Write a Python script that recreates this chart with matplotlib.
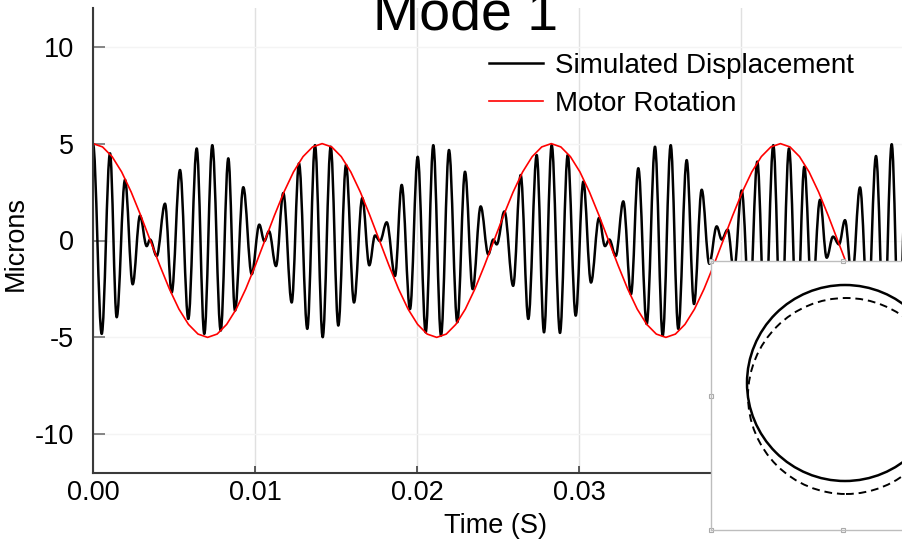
import numpy as np
import matplotlib
matplotlib.use('Agg')
import matplotlib.pyplot as plt
from matplotlib.patches import Circle, PathPatch
from matplotlib.path import Path

# simulated displacement: peaks/troughs (time in ms, microns)
disp_t_ms = [0.000, 0.537, 1.049, 1.462, 1.974, 2.449, 2.899, 3.313, 3.516, 3.930,
             4.442, 4.855, 5.367, 5.879, 6.397, 6.866, 7.360, 7.878, 8.347, 8.760,
             9.272, 9.790, 10.259, 10.568, 10.858, 11.289, 11.740, 12.258, 12.708, 13.220,
             13.695, 14.170, 14.664, 15.133, 15.608, 16.101, 16.613, 17.045, 17.397, 17.705,
             18.119, 18.631, 19.044, 19.556, 20.031, 20.524, 20.993, 21.468, 21.962, 22.474,
             22.949, 23.424, 23.917, 24.386, 24.695, 24.904, 25.382, 25.919, 26.385, 26.854,
             27.372, 27.823, 28.298, 28.809, 29.285, 29.778, 30.247, 30.722, 31.215, 31.585,
             31.851, 32.246, 32.714, 33.190, 33.640, 34.158, 34.670, 35.145, 35.639, 36.107,
             36.625, 37.076, 37.551, 38.020, 38.476, 38.785, 39.155, 39.543, 40.018, 40.500,
             40.981, 41.456, 41.968, 42.443, 42.936, 43.430, 43.880, 44.355, 44.849, 45.262,
             45.651, 46.021, 46.391, 46.823, 47.316, 47.810, 48.303, 48.797, 49.272, 49.722,
             50.216]
disp_um = [5.00, -4.82, 4.50, -3.96, 3.13, -2.26, 1.28, -0.29, 0.05, -0.80,
           1.90, -2.68, 3.64, -4.05, 4.75, -4.82, 4.92, -4.65, 4.24, -3.62,
           2.75, -1.74, 0.82, -0.03, 0.48, -1.32, 2.45, -3.20, 3.98, -4.56,
           4.92, -4.99, 4.84, -4.39, 3.90, -3.20, 2.19, -1.28, 0.26, -0.03,
           0.94, -1.83, 2.87, -3.54, 4.32, -4.74, 4.92, -4.91, 4.67, -4.22,
           3.55, -2.51, 1.76, -0.72, 0.05, -0.20, 1.50, -2.34, 3.38, -4.05,
           4.41, -4.74, 4.92, -4.77, 4.41, -3.88, 3.04, -2.17, 1.16, -0.29,
           0.05, -0.80, 2.02, -2.77, 3.73, -4.31, 4.84, -4.91, 4.92, -4.56,
           4.15, -3.28, 2.62, -1.20, 0.73, 0.05, 0.56, -1.60, 2.58, -3.40,
           4.07, -4.60, 4.92, -5.00, 4.75, -4.50, 3.81, -3.00, 2.10, -0.89,
           0.20, -0.20, 1.05, -2.00, 2.74, -3.60, 4.36, -4.80, 4.97, -4.90,
           4.80]

# motor rotation, one sample every 15 deg of shaft angle (period ~14.13 ms)
motor_step_ms = 0.589
motor_um = [5.00, 4.83, 4.33, 3.54, 2.50, 1.29, 0.00, -1.29, -2.50, -3.54, -4.33, -4.83,
            -5.00, -4.83, -4.33, -3.54, -2.50, -1.29, 0.00, 1.29, 2.50, 3.54, 4.33, 4.83,
            5.00, 4.83, 4.33, 3.54, 2.50, 1.29, 0.00, -1.29, -2.50, -3.54, -4.33, -4.83,
            -5.00, -4.83, -4.33, -3.54, -2.50, -1.29, 0.00, 1.29, 2.50, 3.54, 4.33, 4.83,
            5.00, 4.83, 4.33, 3.54, 2.50, 1.29, 0.00, -1.29, -2.50, -3.54, -4.33, -4.83,
            -5.00, -4.83, -4.33, -3.54, -2.50, -1.29, 0.00, 1.29, 2.50, 3.54, 4.33, 4.83,
            5.00, 4.83, 4.33, 3.54, 2.50, 1.29, 0.00, -1.29, -2.50, -3.54, -4.33, -4.83,
            -5.00, -4.83, -4.33]

x_ticks = [0.00, 0.01, 0.02, 0.03, 0.04]
x_labels = ['0.00', '0.01', '0.02', '0.03', '0.04']
y_ticks = [-10, -5, 0, 5, 10]
y_labels = ['-10', '-5', '0', '5', '10']

# inset: rotor orbit (solid) against the nominal circle (dashed)
orbit_center = (2, 12.5)
nominal_center = (3, -0.5)
orbit_radius = 98


def smooth_trace(t, v, k=0.36):
    # bezier through the extrema, flat tangent at each peak/trough
    verts = [(t[0], v[0])]
    codes = [Path.MOVETO]
    for i in range(1, len(t)):
        dt = t[i] - t[i - 1]
        verts += [(t[i - 1] + k * dt, v[i - 1]), (t[i] - k * dt, v[i]), (t[i], v[i])]
        codes += [Path.CURVE4] * 3
    return Path(verts, codes)


def draw():
    plt.rcParams['font.family'] = ['Liberation Sans', 'DejaVu Sans']
    fs = 19.5

    fig = plt.figure(figsize=(9.03, 5.40), dpi=100)
    ax = fig.add_axes([93 / 903, 67 / 540, 810.5 / 903, 465 / 540])

    t = np.array(disp_t_ms) / 1000
    ax.add_patch(PathPatch(smooth_trace(t, disp_um), fill=False, edgecolor='black',
                           lw=1.8, joinstyle='round'))
    ax.plot([], [], color='black', lw=1.8, label='Simulated Displacement')
    motor_t = np.arange(len(motor_um)) * motor_step_ms / 1000
    ax.plot(motor_t, motor_um, color='red', lw=1.2, label='Motor Rotation')

    ax.set_xlim(0, 0.05)
    ax.set_ylim(-12, 12)
    ax.set_xticks(x_ticks)
    ax.set_xticklabels(x_labels)
    ax.set_yticks(y_ticks)
    ax.set_yticklabels(y_labels)
    ax.grid(axis='x', color='#e0e0e0', lw=1)
    ax.grid(axis='y', color='#f4f4f4', lw=1)
    ax.set_axisbelow(True)

    ax.tick_params(axis='y', direction='in', length=8.6, width=1.2, color='#707070',
                   pad=13.5, labelsize=fs)
    ax.tick_params(axis='x', direction='in', length=5, width=1.2, color='#404040',
                   pad=5, labelsize=fs)
    for side in ['top', 'right']:
        ax.spines[side].set_visible(False)
    for side in ['left', 'bottom']:
        ax.spines[side].set_color('#3a3a3a')
        ax.spines[side].set_linewidth(1.5)

    ax.set_xlabel('Time (S)', fontsize=fs, va='center')
    ax.xaxis.set_label_coords(0.496, -0.115)
    ax.set_ylabel('Microns', fontsize=fs, va='center')
    ax.yaxis.set_label_coords(-0.095, 0.4925)

    fig.text(465.5 / 903, 1 - 30 / 540, 'Mode 1', fontsize=40, ha='center', va='baseline')

    ax.legend(loc='upper left', bbox_to_anchor=(489 / 903, 1 - 53 / 540),
              bbox_transform=fig.transFigure, frameon=False, fontsize=20,
              handlelength=1.95, handletextpad=0.42, labelspacing=0.42,
              borderpad=0, borderaxespad=0)

    # inset picture (cut by the right edge of the figure)
    ins = fig.add_axes([711 / 903, 10 / 540, 264 / 903, 269 / 540])
    ins.set_facecolor('white')
    ins.set_xlim(-132, 132)
    ins.set_ylim(-134.5, 134.5)
    ins.add_patch(Circle(orbit_center, orbit_radius, fill=False, lw=1.8, color='black'))
    ins.add_patch(Circle(nominal_center, orbit_radius, fill=False, lw=1.4,
                         ls=(0, (4, 2.5)), color='black'))
    ins.set_xticks([])
    ins.set_yticks([])
    for s in ins.spines.values():
        s.set_color('#bdbdbd')
        s.set_linewidth(1)
    # little selection handles on the picture frame
    ins.plot([0, 0.5, 0, 0, 0.5], [1, 1, 0.5, 0, 0], transform=ins.transAxes,
             ls='none', marker='s', ms=3, mfc='white', mec='#aaaaaa', mew=0.8,
             clip_on=False)

    fig.savefig('out.png', dpi=100)


if __name__ == '__main__':
    draw()
